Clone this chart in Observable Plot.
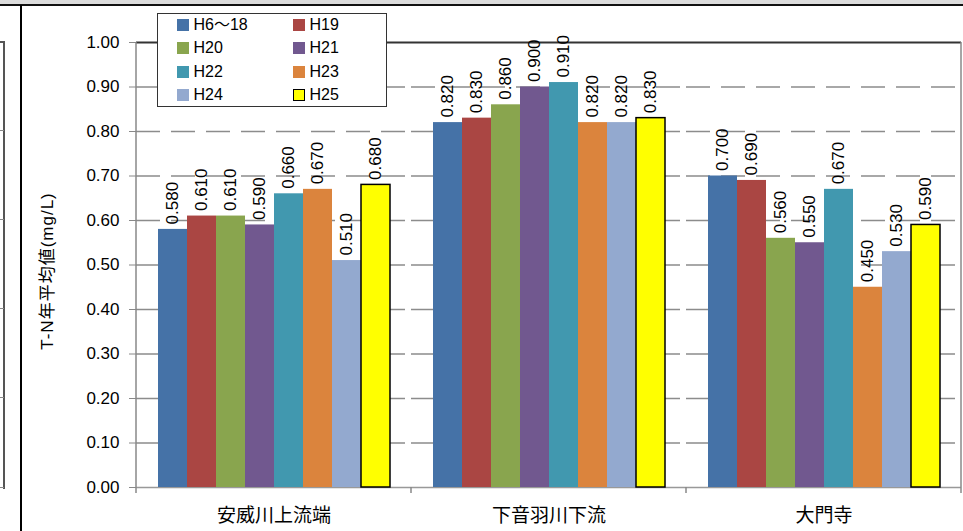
<!DOCTYPE html>
<html><head><meta charset="utf-8">
<script src="https://cdn.jsdelivr.net/npm/d3@7"></script>
<script src="https://cdn.jsdelivr.net/npm/@observablehq/plot@0.6"></script>
<style>
body{margin:0;background:#fff;}
#wrap{position:relative;width:963px;height:531px;overflow:hidden;font-family:"Liberation Sans","Noto Sans CJK JP",sans-serif;color:#000;}
#chart{position:absolute;left:0;top:0;}
.deco{position:absolute;}
#legend{position:absolute;left:157px;top:13px;width:228px;height:92px;border:1.5px solid #333;background:#fff;}
.item{position:absolute;font-size:16px;line-height:16px;white-space:nowrap;}
.sw{position:absolute;width:12px;height:12px;box-sizing:border-box;}
#ytitle{position:absolute;left:45px;top:271px;transform:translate(-50%,-50%) rotate(-90deg);white-space:nowrap;font-size:17px;letter-spacing:1px;}
</style></head>
<body>
<div id="wrap">
  <div class="deco" style="left:0;top:0;width:963px;height:4px;background:#dcdcdc;"></div>
  <div class="deco" style="left:0;top:4px;width:963px;height:2px;background:#111;"></div>
  <div class="deco" style="left:20px;top:5px;width:2px;height:526px;background:#000;"></div>
  <div class="deco" style="left:0;top:41px;width:5px;height:2px;background:#555;"></div>
  <div class="deco" style="left:3px;top:41px;width:2px;height:448px;background:#555;"></div>
  <div id="chart"></div>
  <div id="ytitle">T-N年平均値(mg/L)</div>
  <div id="legend"></div>
</div>
<script>
const sites = ["安威川上流端", "下音羽川下流", "大門寺"];
const years = ["H6～18", "H19", "H20", "H21", "H22", "H23", "H24", "H25"];
const colors = ["#4572A7", "#AA4643", "#89A54E", "#71588F", "#4198AF", "#DB843D", "#93A9CF", "#FFFF00"];
const valuesAikawa = [0.580, 0.610, 0.610, 0.590, 0.660, 0.670, 0.510, 0.680];
const valuesShimoOtowa = [0.820, 0.830, 0.860, 0.900, 0.910, 0.820, 0.820, 0.830];
const valuesDaimonji = [0.700, 0.690, 0.560, 0.550, 0.670, 0.450, 0.530, 0.590];
const yTicks = [0, 0.1, 0.2, 0.3, 0.4, 0.5, 0.6, 0.7, 0.8, 0.9, 1.0];
const leftTicks = [130, 219, 308, 397, 487];

const series = [valuesAikawa, valuesShimoOtowa, valuesDaimonji];
const data = sites.flatMap((s, i) => years.map((y, j) => ({site: s, year: y, value: series[i][j]})));

const chart = Plot.plot({
  width: 963, height: 531,
  marginLeft: 135, marginRight: 1, marginTop: 42, marginBottom: 44,
  style: {fontFamily: "'Liberation Sans','Noto Sans CJK JP',sans-serif", fontSize: "17px", color: "#000", background: "transparent", overflow: "visible"},
  fx: {domain: sites, padding: 0},
  x: {domain: years, paddingInner: 0, paddingOuter: 0.7, axis: null},
  y: {domain: [0, 1]},
  color: {domain: years, range: colors},
  marks: [
    Plot.ruleY(yTicks.filter(t => t > 0 && t < 1), {stroke: "#8c8c8c", strokeWidth: 1.5, strokeDasharray: "24,11"}),
    Plot.ruleY([0], {stroke: "#999", strokeWidth: 1.5}),
    Plot.barY(data, {fx: "site", x: "year", y: "value", fill: "year"}),
    Plot.barY(data.filter(d => d.year === "H25"), {fx: "site", x: "year", y: "value", fill: "none", stroke: "#000", strokeWidth: 1.5}),
    Plot.ruleY([1], {stroke: "#333", strokeWidth: 2}),
    Plot.text(data, {fx: "site", x: "year", y: "value", text: d => d.value.toFixed(3), rotate: -90, textAnchor: "start", dy: -5, fontSize: 17, fill: "#000"}),
    Plot.axisY({ticks: yTicks, tickFormat: d => d.toFixed(2), tickSize: 7, tickPadding: 10, stroke: "#888", fill: "#000", fontSize: 17, label: null}),
    Plot.axisFx({anchor: "bottom", tickSize: 0, tickPadding: 21, fontSize: 19, label: null, fontFamily: "'Noto Sans CJK JP',sans-serif"})
  ]
});
document.getElementById("chart").appendChild(chart);

// axis frame lines and category separators using the plot's scales
const fx = chart.scale("fx");
const ys = chart.scale("y");
const y0 = ys.apply(0), y1 = ys.apply(1);
const bounds = sites.map(s => fx.apply(s));
bounds.push(fx.apply(sites[sites.length - 1]) + fx.bandwidth);
const g = d3.select(chart).append("g").attr("stroke", "#888").attr("stroke-width", 1.5);
g.append("line").attr("x1", bounds[0]).attr("x2", bounds[0]).attr("y1", y1).attr("y2", y0 + 6);
g.append("line").attr("x1", bounds[3]).attr("x2", bounds[3]).attr("y1", y1).attr("y2", y0 + 6);
[bounds[1], bounds[2]].forEach(b => g.append("line").attr("x1", b).attr("x2", b).attr("y1", y0).attr("y2", y0 + 6));

// left partial frame ticks
const wrap = document.getElementById("wrap");
leftTicks.forEach(t => {
  const d = document.createElement("div");
  d.className = "deco";
  d.style.cssText = `left:0;top:${t}px;width:4px;height:1px;background:#888;`;
  wrap.appendChild(d);
});

// legend
const legend = document.getElementById("legend");
years.forEach((y, i) => {
  const col = i % 2, row = Math.floor(i / 2);
  const cy = [10.5, 33.5, 57.5, 80.5][row];
  const sw = document.createElement("div");
  sw.className = "sw";
  sw.style.left = (col ? 134.5 : 18.5) + "px";
  sw.style.top = (cy - 6) + "px";
  sw.style.background = colors[i];
  if (y === "H25") sw.style.border = "1.5px solid #000";
  legend.appendChild(sw);
  const t = document.createElement("div");
  t.className = "item";
  t.style.left = (col ? 151.5 : 35.5) + "px";
  t.style.top = (cy - 8) + "px";
  t.textContent = y;
  legend.appendChild(t);
});
</script>
</body></html>
